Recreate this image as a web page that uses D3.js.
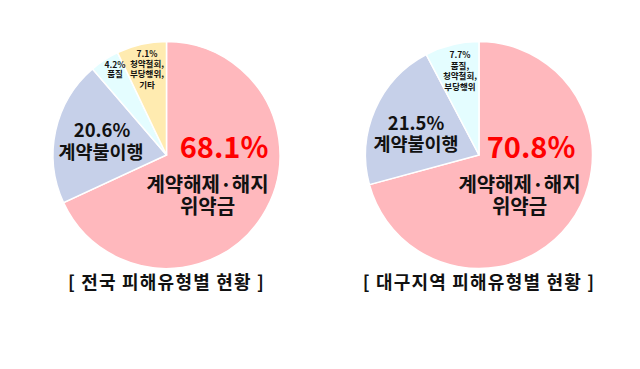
<!DOCTYPE html>
<html><head><meta charset="utf-8">
<script src="https://cdn.jsdelivr.net/npm/d3@7"></script>
<style>html,body{margin:0;padding:0;background:#fff;}svg{display:block;}text{font-family:"Noto Sans CJK KR","Noto Sans",sans-serif;}</style>
</head><body>
<svg id="c" width="640" height="369"></svg>
<script>
const categories = ["계약해제·해지 위약금", "계약불이행", "품질", "청약철회, 부당행위, 기타"];
const nationalValues = [68.1, 20.6, 4.2, 7.1];
const daeguCategories = ["계약해제·해지 위약금", "계약불이행", "품질, 청약철회, 부당행위"];
const daeguValues = [70.8, 21.5, 7.7];
const titles = ["[ 전국 피해유형별 현황 ]", "[ 대구지역 피해유형별 현황 ]"];
const colors = ["#ffb8bd", "#c6d0e9", "#e4fdff", "#ffebb0"];
const daeguColors = ["#ffb8bd", "#c6d0e9", "#e4fdff"];

const svg = d3.select("#c");
const pie = d3.pie().sort(null).value(d => d);
const R = 113.5;
const arc = d3.arc().innerRadius(0).outerRadius(R);

function drawPie(cx, cy, values, cols, labels, title) {
  const g = svg.append("g").attr("transform", `translate(${cx},${cy})`);
  g.selectAll("path").data(pie(values)).join("path")
    .attr("d", arc).attr("fill", (d, i) => cols[i])
    .attr("stroke", "#fff").attr("stroke-width", 1.5);
  labels.forEach(l => {
    const t = g.append("text").attr("text-anchor", "middle")
      .attr("font-weight", 700).attr("font-size", l.size)
      .attr("fill", l.color || "#111");
    l.lines.forEach((s, i) => {
      t.append("tspan").attr("x", l.x).attr("y", l.y + i * l.lh).text(s);
    });
  });
  svg.append("text").attr("x", cx).attr("y", 289).attr("text-anchor", "middle")
    .attr("font-weight", 700).attr("font-size", 18).attr("fill", "#111")
    .attr("letter-spacing", 1.2).text(title);
}

const fmt = v => v.toFixed(1) + "%";

drawPie(166.5, 155, nationalValues, colors, [
  {x: 57.5, y: 3, size: 29, color: "#ff0000", lines: [fmt(nationalValues[0])], lh: 0},
  {x: 41, y: 37, size: 20, lines: ["계약해제·해지", "위약금"], lh: 22},
  {x: -64.5, y: -18, size: 18.5, lines: [fmt(nationalValues[1])], lh: 0},
  {x: -65.5, y: 3.5, size: 18.5, lines: ["계약불이행"], lh: 0},
  {x: -51.5, y: -87.5, size: 8.5, lines: [fmt(nationalValues[2]), "품질"], lh: 9.8},
  {x: -19.5, y: -98, size: 8.5, lines: [fmt(nationalValues[3]), "청약철회,", "부당행위,", "기타"], lh: 10.2}
], titles[0]);

drawPie(479, 155, daeguValues, daeguColors, [
  {x: 52, y: 3, size: 29, color: "#ff0000", lines: [fmt(daeguValues[0])], lh: 0},
  {x: 40.5, y: 37, size: 20, lines: ["계약해제·해지", "위약금"], lh: 22},
  {x: -63, y: -25, size: 18.5, lines: [fmt(daeguValues[1])], lh: 0},
  {x: -63, y: -4.5, size: 18.5, lines: ["계약불이행"], lh: 0},
  {x: -19, y: -97, size: 8.5, lines: [fmt(daeguValues[2]), "품질,", "청약철회,", "부당행위"], lh: 10.5}
], titles[1]);
</script>
</body></html>
